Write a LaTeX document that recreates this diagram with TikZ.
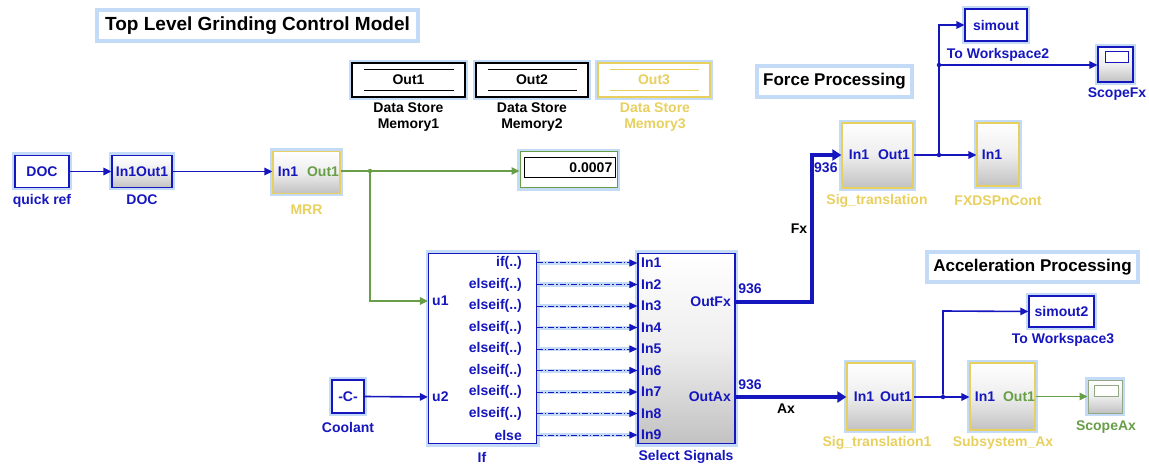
\documentclass[tikz,border=0pt]{standalone}
\usepackage{fontspec}
\setmainfont{Liberation Sans}
\usetikzlibrary{arrows.meta,calc}
\definecolor{sblue}{RGB}{22,22,190}
\definecolor{syel}{RGB}{232,208,95}
\definecolor{sgreen}{RGB}{105,158,72}
\definecolor{hl}{RGB}{196,219,248}
\begin{document}
\begin{tikzpicture}[x=1pt,y=-1pt,
  halo/.style={preaction={draw=hl,line width=6pt}},
  blk/.style={rectangle,draw=sblue,line width=1.3pt,fill=white,halo,inner sep=0pt},
  subblk/.style={blk,top color=white,bottom color=black!24,middle color=black!7},
  yblk/.style={subblk,draw=syel},
  note/.style={rectangle,draw=hl,line width=4pt,fill=white,inner sep=3pt,font=\bfseries\fontsize{17}{20}\selectfont},
  txt/.style={inner sep=0pt,font=\bfseries\fontsize{14}{16}\selectfont},
  wire/.style={draw=sblue,line width=1.6pt,-{Triangle[length=8pt,width=7.5pt]}},
  gwire/.style={wire,draw=sgreen,-{Triangle[length=8pt,width=7.5pt]}},
  bus/.style={draw=sblue,line width=4pt,-{Triangle[length=9pt,width=11pt]}},
  dd/.style={draw=sblue,line width=1pt,dash pattern=on 6pt off 2pt on 1.2pt off 2pt,
     preaction={draw=hl,line width=4pt,solid},-{Triangle[length=8pt,width=7pt]}},
  dot/.style={circle,fill=#1,inner sep=0pt,minimum size=4.5pt}]
\useasboundingbox (0,0) rectangle (1149,465);

% titles
\node[note,minimum width=321pt,minimum height=31pt,font=\bfseries\fontsize{19}{22}\selectfont] (title) at (257.5,26) {Top Level Grinding Control Model};
\node[note,minimum width=155pt,minimum height=31pt] (forcep) at (834.5,81.5) {Force Processing};
\node[note,minimum width=211pt,minimum height=30pt] (accp) at (1032.5,267) {Acceleration Processing};

% data stores
\node[blk,draw=black,minimum width=113pt,minimum height=34pt] (ds1) at (408.5,80) {};
\node[blk,draw=black,minimum width=112pt,minimum height=34pt] (ds2) at (532,80) {};
\node[blk,draw=syel,minimum width=112pt,minimum height=34pt] (ds3) at (654,80) {};
\foreach \d/\c in {ds1/black,ds2/black,ds3/syel}{
  \draw[\c,line width=1pt] ([xshift=13pt,yshift=-7pt]\d.north west) -- ([xshift=-12pt,yshift=-7pt]\d.north east);
  \draw[\c,line width=1pt] ([xshift=13pt,yshift=7pt]\d.south west) -- ([xshift=-12pt,yshift=7pt]\d.south east);
}
\node[txt] (tds1) at (ds1) {Out1};
\node[txt] (tds2) at (ds2) {Out2};
\node[txt,syel] (tds3) at (ds3) {Out3};
\node[txt,align=center] (lds1) at (408.5,117.5) {Data Store\\Memory1};
\node[txt,align=center] (lds2) at (532,117.5) {Data Store\\Memory2};
\node[txt,align=center,syel] (lds3) at (655,117.5) {Data Store\\Memory3};

% DOC chain
\node[blk,minimum width=54pt,minimum height=32pt] (doc) at (42,171.5) {};
\node[txt,sblue] (tdoc) at (doc) {DOC};
\node[txt,sblue] (ldoc) at (42,201) {quick ref};
\node[subblk,minimum width=60pt,minimum height=32pt] (docs) at (142,171.5) {};
\node[txt,sblue] (tdocs) at (docs) {In1Out1};
\node[txt,sblue] (ldocs) at (142,200) {DOC};
\node[yblk,minimum width=67pt,minimum height=42pt] (mrr) at (306.5,172.5) {};
\node[txt,sblue] (mrrin) at (288,172) {In1};
\node[txt,sgreen] (mrrout) at (323,172) {Out1};
\node[txt,syel] (lmrr) at (306.5,210) {MRR};

% display
\node[blk,draw=sgreen,line width=1pt,minimum width=97pt,minimum height=36pt] (disp) at (568.5,170) {};
\node[draw=black,line width=1pt,fill=white,minimum width=91pt,minimum height=20pt,inner sep=0pt] (dispin) at (569.5,168) {};
\node[txt,anchor=east] (tdisp) at ([xshift=-3pt]dispin.east) {0.0007};

% If and Select
\node[blk,minimum width=108pt,minimum height=190pt] (ifb) at (482.5,348.5) {};
\node[subblk,minimum width=97pt,minimum height=190pt] (sel) at (686.5,348.5) {};
\node[txt,sblue,anchor=west] (u1) at (432,301) {u1};
\node[txt,sblue,anchor=west] (u2) at (432,397) {u2};
\node[txt,sblue] (lif) at (482,457) {If};
\node[txt,sblue] (lsel) at (686,457) {Select Signals};
\foreach \y/\t [count=\i] in {263/if(..),284.5/elseif(..),306/elseif(..),327.5/elseif(..),349/elseif(..),370.5/elseif(..),392/elseif(..),413.5/elseif(..),435/else}{
  \node[txt,sblue,anchor=east] (o\i) at (522,\y) {\t};
  \node[txt,sblue,anchor=west] (s\i) at (641,\y) {In\i};
  \draw[dd] (ifb.east |- o\i) -- (sel.west |- s\i);
}
\node[txt,sblue,anchor=east] (ofx) at (731,302) {OutFx};
\node[txt,sblue,anchor=east] (oax) at (731,397) {OutAx};

% Coolant
\node[blk,minimum width=32pt,minimum height=33pt] (cool) at (348,396.5) {};
\node[txt,sblue] (tcool) at (cool) {-C-};
\node[txt,sblue] (lcool) at (348,427) {Coolant};

% Force processing
\node[yblk,minimum width=71pt,minimum height=65pt] (st) at (877.5,155.5) {};
\node[txt,sblue] (stin) at (859,155) {In1};
\node[txt,sblue] (stout) at (894,155) {Out1};
\node[txt,syel] (lst) at (877,201) {Sig\_translation};
\node[yblk,minimum width=42pt,minimum height=63pt] (fx) at (998,154.5) {};
\node[txt,sblue] (fxin) at (992,155) {In1};
\node[txt,syel] (lfx) at (998,201) {FXDSPnCont};
\node[blk,minimum width=62pt,minimum height=32pt] (so) at (996,25) {};
\node[txt,sblue] (tso) at (so) {simout};
\node[txt,sblue] (lso) at (998,55) {To Workspace2};
\node[subblk,minimum width=35pt,minimum height=35pt] (scfx) at (1115.5,64.5) {};
\node[draw=sblue,line width=1pt,fill=white,minimum width=23pt,minimum height=11pt,inner sep=0pt] (scfxin) at (1116.5,57.5) {};
\node[txt,sblue] (lscfx) at (1117,94) {ScopeFx};

% Acceleration processing
\node[yblk,minimum width=66pt,minimum height=67pt] (st1) at (880,396.5) {};
\node[txt,sblue] (st1in) at (864,397) {In1};
\node[txt,sblue] (st1out) at (896,397) {Out1};
\node[txt,syel] (lst1) at (877,443) {Sig\_translation1};
\node[yblk,minimum width=65pt,minimum height=67pt] (sa) at (1002.5,396.5) {};
\node[txt,sblue] (sain) at (985,397) {In1};
\node[txt,sgreen] (saout) at (1019,397) {Out1};
\node[txt,syel] (lsa) at (1003,443) {Subsystem\_Ax};
\node[blk,minimum width=65pt,minimum height=31pt] (so2) at (1061.5,311.5) {};
\node[txt,sblue] (tso2) at (so2) {simout2};
\node[txt,sblue] (lso2) at (1063,340) {To Workspace3};
\node[subblk,draw=sgreen!70!black!60,line width=1pt,minimum width=34pt,minimum height=33pt] (scax) at (1105,396.5) {};
\node[draw=sgreen!70!black!60,line width=1pt,fill=white,minimum width=24pt,minimum height=11pt,inner sep=0pt] (scaxin) at (1106,391) {};
\node[txt,sgreen] (lscax) at (1106,427) {ScopeAx};

% junctions
\node[dot=sgreen] (j1) at (370,171) {};
\node[dot=sblue] (j2) at (939,155) {};
\node[dot=sblue] (j3) at (939,65) {};
\node[dot=sblue] (j4) at (943,397) {};

% wires
\draw[wire] (doc.east) -- (docs.west);
\draw[wire] (docs.east) -- (docs.east -| mrr.west);
\draw[gwire] (mrr.east |- j1) -- (j1) -- (disp.west |- j1);
\draw[gwire] (j1) -- (370,301) -- (ifb.west |- u1);
\draw[wire] (cool.east) -- (ifb.west |- u2);
\draw[bus] (sel.east |- ofx) -- (812,302) -- (812,155) -- (st.west |- stin);
\draw[bus] (sel.east |- oax) -- (st1.west |- st1in);
\node[txt,sblue] (n1) at (750,289) {936};
\node[txt,sblue,anchor=west] (n2) at (814,168) {936};
\node[txt,sblue] (n3) at (750,385) {936};
\node[txt,fill=white,inner sep=2pt] (lfxs) at (799,229) {Fx};
\node[txt,fill=white,inner sep=2pt] (laxs) at (786,409) {Ax};
\draw[wire,-] (st.east |- j2) -- (j2);
\draw[wire] (j2) -- (fx.west |- j2);
\draw[wire] (j2) -- (j3) -- (939,25) -- (so.west);
\draw[wire] (j3) -- (scfx.west |- j3);
\draw[wire,-] (st1.east |- j4) -- (j4);
\draw[wire] (j4) -- (sa.west |- j4);
\draw[wire] (j4) -- (943,311) -- (so2.west);
\draw[gwire] (sa.east) -- (scax.west);
\end{tikzpicture}
\end{document}
